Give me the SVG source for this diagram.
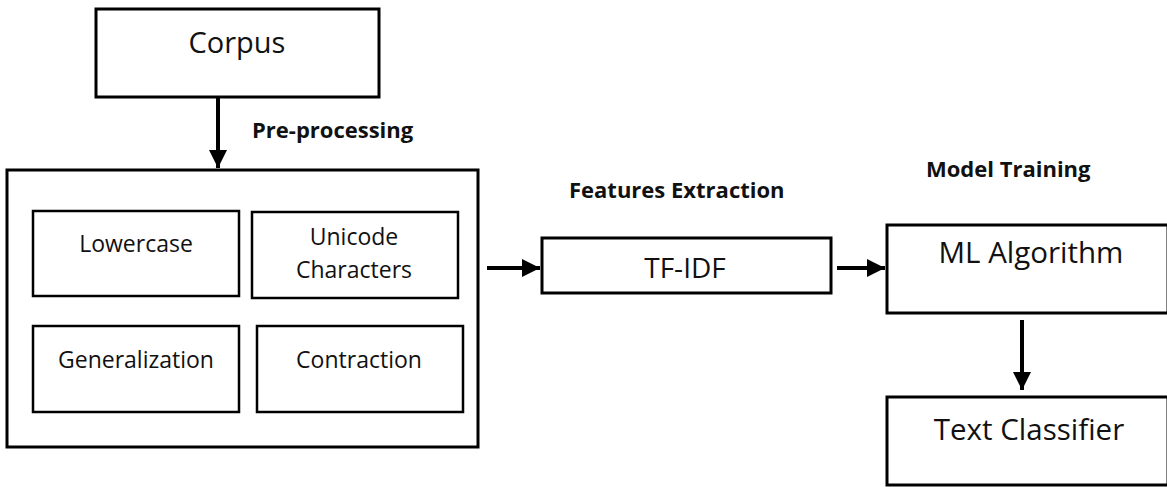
<svg xmlns="http://www.w3.org/2000/svg" width="1167" height="487" viewBox="0 0 1167 487">
  <style>
    .box { fill: #ffffff; stroke: #000000; stroke-width: 3; }
    .inner { fill: #ffffff; stroke: #000000; stroke-width: 2.5; }
    .lbl { font-family: "Open Sans", "Noto Sans", sans-serif; fill: #111111; text-anchor: middle; }
    .small { font-size: 23px; }
    .stage { font-family: "Open Sans", "Noto Sans", sans-serif; font-weight: bold; fill: #111111; font-size: 22px; }
    .conn { stroke: #000000; stroke-width: 4; fill: none; marker-end: url(#head); }
  </style>
  <defs>
    <marker id="head" viewBox="0 0 10 10" refX="10" refY="5" markerWidth="4.5" markerHeight="4.5" markerUnits="strokeWidth" orient="auto">
      <path d="M0,0 L10,5 L0,10 Z" fill="#000000"/>
    </marker>
  </defs>
  <rect width="1167" height="487" fill="#ffffff"/>

  <g id="corpus">
    <rect class="box" x="96" y="9" width="283" height="88"/>
    <text class="lbl" x="237" y="53" font-size="29">Corpus</text>
  </g>

  <g id="preprocessing">
    <rect class="box" x="7" y="170" width="471" height="277"/>
    <g id="lowercase">
      <rect class="inner" x="33" y="211" width="206" height="85"/>
      <text class="lbl small" x="136" y="252">Lowercase</text>
    </g>
    <g id="unicode">
      <rect class="inner" x="252" y="212" width="206" height="86"/>
      <text class="lbl small" x="354" y="245">Unicode</text>
      <text class="lbl small" x="354" y="278">Characters</text>
    </g>
    <g id="generalization">
      <rect class="inner" x="33" y="326" width="206" height="86"/>
      <text class="lbl small" x="136" y="368">Generalization</text>
    </g>
    <g id="contraction">
      <rect class="inner" x="257" y="326" width="206" height="86"/>
      <text class="lbl small" x="359" y="368">Contraction</text>
    </g>
  </g>

  <g id="tfidf">
    <rect class="box" x="542" y="238" width="289" height="55"/>
    <text class="lbl" x="685" y="278" font-size="28">TF-IDF</text>
  </g>

  <g id="ml-algorithm">
    <rect class="box" x="887" y="225" width="281" height="88"/>
    <text class="lbl" x="1031" y="263" font-size="29.5">ML Algorithm</text>
  </g>

  <g id="text-classifier">
    <rect class="box" x="887" y="397" width="281" height="88"/>
    <text class="lbl" x="1029" y="440" font-size="29.5">Text Classifier</text>
  </g>

  <g id="stage-labels">
    <text class="stage" x="252" y="138">Pre-processing</text>
    <text class="stage" x="569" y="198">Features Extraction</text>
    <text class="stage" x="926" y="177">Model Training</text>
  </g>

  <g id="connectors">
    <line class="conn" x1="218" y1="98" x2="218" y2="168"/>
    <line class="conn" x1="487" y1="268" x2="540" y2="268"/>
    <line class="conn" x1="837" y1="268" x2="885" y2="268"/>
    <line class="conn" x1="1022" y1="320" x2="1022" y2="390"/>
  </g>
</svg>
